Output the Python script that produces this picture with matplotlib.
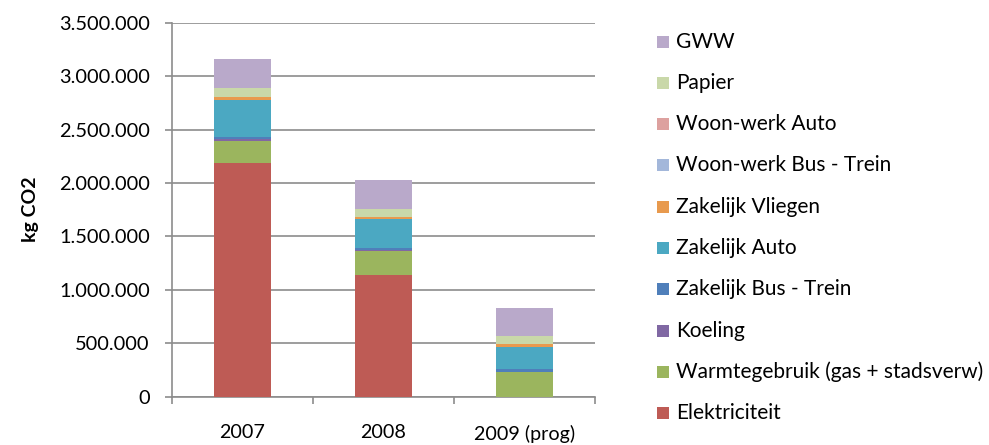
import matplotlib
matplotlib.use("Agg")
import matplotlib.pyplot as plt
from matplotlib.patches import Rectangle
from matplotlib.ticker import FuncFormatter, FixedLocator
import numpy as np

plt.rcParams['font.family'] = ['Lato', 'DejaVu Sans']

categories = ["2007", "2008", "2009 (prog)"]
series_names = ["Elektriciteit", "Warmtegebruik (gas + stadsverw)", "Koeling",
                "Zakelijk Bus - Trein", "Zakelijk Auto", "Zakelijk Vliegen",
                "Woon-werk Bus - Trein", "Woon-werk Auto", "Papier", "GWW"]
elektriciteit = [2183000, 1141000, 0]
warmtegebruik = [209000, 222000, 231000]
koeling = [15000, 13000, 3000]
zakelijk_bus_trein = [20000, 18000, 25000]
zakelijk_auto = [348000, 268000, 209000]
zakelijk_vliegen = [28000, 20000, 23000]
woonwerk_bus_trein = [2000, 1000, 1000]
woonwerk_auto = [2000, 1000, 1000]
papier = [82000, 72000, 75000]
gww = [268000, 271000, 262000]
series_values = [elektriciteit, warmtegebruik, koeling, zakelijk_bus_trein, zakelijk_auto,
                 zakelijk_vliegen, woonwerk_bus_trein, woonwerk_auto, papier, gww]
colors = ["#BE5B55", "#9BB55E", "#8068A3", "#4F7FBA", "#4BA8C2", "#E89A4E",
          "#A3B7DA", "#DDA19F", "#C9D8A9", "#B9A9CA"]
yticks = [0, 500000, 1000000, 1500000, 2000000, 2500000, 3000000, 3500000]

W, H = 989, 445
fig = plt.figure(figsize=(W/100, H/100), dpi=100)
ax = fig.add_axes([172/W, 1-396.7/H, (595-172)/W, (396.7-22.7)/H])

x = np.arange(len(categories))
bottom = np.zeros(len(categories))
for name, vals, c in zip(series_names, series_values, colors):
    ax.bar(x, vals, width=0.40, bottom=bottom, color=c, edgecolor='none', zorder=3)
    bottom += np.array(vals)

grid_c = "#8C8C8C"
ax.set_xlim(-0.5, 2.5)
ax.set_ylim(0, 3500000)
ax.set_yticks(yticks)
ax.yaxis.set_major_formatter(FuncFormatter(lambda v, p: f"{int(v):,}".replace(",", ".")))
ax.grid(axis='y', color=grid_c, linewidth=1.2, zorder=0)
for s in ['top', 'right']:
    ax.spines[s].set_visible(False)
for s in ['left', 'bottom']:
    ax.spines[s].set_color(grid_c)
    ax.spines[s].set_linewidth(1.2)
ax.tick_params(axis='y', length=5, width=1.2, color=grid_c, pad=11, labelsize=14.4)
ax.set_xticks(x)
ax.set_xticklabels(categories)
ax.tick_params(axis='x', which='major', length=0, pad=20, labelsize=14.2)
ax.xaxis.set_minor_locator(FixedLocator([-0.5, 0.5, 1.5, 2.5]))
ax.tick_params(axis='x', which='minor', length=5, width=1.2, color=grid_c)
ax.set_ylabel("kg CO2", fontsize=14, fontweight='bold')
ax.yaxis.set_label_coords((39-172)/(595-172), 0.5)

# legend (top to bottom reversed order)
y0 = 41.7
dy = 41.26
for i, (name, c) in enumerate(zip(series_names[::-1], colors[::-1])):
    yc = y0 + i*dy
    fig.patches.append(Rectangle((657/W, 1-(yc+6)/H), 12/W, 12/H, transform=fig.transFigure,
                                 facecolor=c, edgecolor='none'))
    fig.text(676/W, 1-yc/H, name, fontsize=15, va='center', ha='left')

fig.savefig("out.png", dpi=100)
